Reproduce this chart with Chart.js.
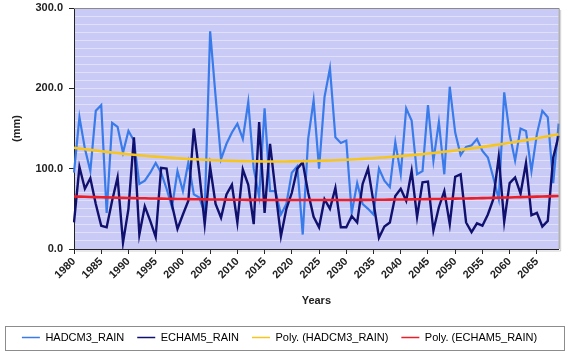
<!DOCTYPE html>
<html>
<head>
<meta charset="utf-8">
<script src="https://cdn.jsdelivr.net/npm/chart.js@4.4.1/dist/chart.umd.min.js"></script>
<style>
html,body{margin:0;padding:0;background:#fff;}
#wrap{width:569px;height:351px;position:relative;}
</style>
</head>
<body>
<div id="wrap"><canvas id="c" width="569" height="351"></canvas></div>
<script>
const years = [
1980,1981,1982,1983,1984,1985,1986,1987,1988,1989,
1990,1991,1992,1993,1994,1995,1996,1997,1998,1999,
2000,2001,2002,2003,2004,2005,2006,2007,2008,2009,
2010,2011,2012,2013,2014,2015,2016,2017,2018,2019,
2020,2021,2022,2023,2024,2025,2026,2027,2028,2029,
2030,2031,2032,2033,2034,2035,2036,2037,2038,2039,
2040,2041,2042,2043,2044,2045,2046,2047,2048,2049,
2050,2051,2052,2053,2054,2055,2056,2057,2058,2059,
2060,2061,2062,2063,2064,2065,2066,2067,2068,2069];

const hadcm3Rain = [
95,164,125,97,172,179,45,157,152,120,
147,135,81,85,95,107,95,75,52,97,
72,108,68,64,45,271,190,112,131,145,
156,137,183,100,65,175,72,72,43,56,
95,103,18,137,185,100,189,225,139,132,
135,45,82,56,50,43,100,85,77,133,
93,175,160,93,97,179,110,158,93,202,
145,117,127,129,137,122,114,89,62,195,
143,110,150,147,97,143,172,164,82,156];

const echam5Rain = [
33,102,75,88,56,29,27,60,89,8,
50,139,18,53,35,15,101,100,55,25,
43,60,150,95,31,102,56,39,68,80,
33,99,80,31,158,45,131,72,16,50,
70,100,108,70,40,27,62,50,76,27,
27,41,33,81,100,58,14,28,33,66,
75,60,97,40,83,84,23,52,72,31,
90,93,33,21,32,29,43,62,115,34,
82,89,69,107,42,45,28,35,114,141];

const seriesNames = ['HADCM3_RAIN','ECHAM5_RAIN','Poly. (HADCM3_RAIN)','Poly. (ECHAM5_RAIN)'];
const yTickLabels = ['0.0','100.0','200.0','300.0'];

// least-squares polynomial trend (as the spreadsheet's "Poly." trendline)
function polyTrend(vals, deg){
  const n = deg + 1;
  const A = Array.from({length:n},()=>new Array(n+1).fill(0));
  vals.forEach((v,i)=>{
    const x = i + 1;
    for(let r=0;r<n;r++){
      for(let c=0;c<n;c++) A[r][c] += Math.pow(x, r+c);
      A[r][n] += v*Math.pow(x, r);
    }
  });
  for(let i=0;i<n;i++){
    let p=i; for(let k=i+1;k<n;k++) if(Math.abs(A[k][i])>Math.abs(A[p][i])) p=k;
    [A[i],A[p]]=[A[p],A[i]];
    for(let k=0;k<n;k++){ if(k===i) continue; const f=A[k][i]/A[i][i]; for(let c=i;c<=n;c++) A[k][c]-=f*A[i][c]; }
  }
  const coef = A.map((row,i)=>row[n]/row[i]);
  return vals.map((_,i)=>{ const x=i+1; return coef.reduce((s,c,k)=>s+c*Math.pow(x,k),0); });
}

const bgPlugin = {
  id:'bg',
  beforeDraw(chart){
    const {ctx, chartArea:a} = chart;
    ctx.save();
    ctx.fillStyle = '#CACAF6';
    ctx.fillRect(a.left, a.top, a.right-a.left, a.bottom-a.top);
    ctx.restore();
  },
  afterDraw(chart){
    const {ctx, chartArea:a} = chart;
    ctx.save();
    ctx.strokeStyle = '#8a8a8a';
    ctx.lineWidth = 1;
    ctx.beginPath();
    ctx.moveTo(a.left, a.top+0.5); ctx.lineTo(a.right+0.5, a.top+0.5); ctx.lineTo(a.right+0.5, a.bottom);
    ctx.stroke();
    ctx.strokeStyle = 'rgba(120,120,120,0.35)';
    ctx.beginPath();
    ctx.moveTo(a.right+2, a.top+2); ctx.lineTo(a.right+2, a.bottom+2); ctx.lineTo(a.left+2, a.bottom+2);
    ctx.stroke();
    const L = chart.legend;
    if(L){
      const cy = L.top + 13 + 5.5;
      ctx.strokeStyle = '#8c8c8c';
      ctx.lineWidth = 1;
      ctx.strokeRect(5.5, Math.round(cy-12)+0.5, 559, 24);
    }
    ctx.restore();
  }
};

const tickFont = {family:'"Liberation Sans", Arial, sans-serif', size:11, weight:'bold'};

new Chart(document.getElementById('c'), {
  type:'line',
  data:{
    labels: years.map(String),
    datasets:[
      {label:seriesNames[0], data:hadcm3Rain, borderColor:'#3A7BEA', borderWidth:2.2, pointRadius:0, tension:0, order:4, pointStyle:'line'},
      {label:seriesNames[1], data:echam5Rain, borderColor:'#10106E', borderWidth:2.4, pointRadius:0, tension:0, order:3, pointStyle:'line'},
      {label:seriesNames[2], data:polyTrend(hadcm3Rain,2), borderColor:'#F6C520', borderWidth:2.6, pointRadius:0, tension:0, order:2, pointStyle:'line'},
      {label:seriesNames[3], data:polyTrend(echam5Rain,2), borderColor:'#EA1F28', borderWidth:2.6, pointRadius:0, tension:0, order:1, pointStyle:'line'}
    ]
  },
  options:{
    responsive:false,
    animation:false,
    devicePixelRatio:1,
    layout:{padding:{left:0,right:10,top:8,bottom:-2}},
    plugins:{
      tooltip:{enabled:false},
      legend:{
        position:'bottom',
        align:'center',
        labels:{
          usePointStyle:true,
          pointStyleWidth:18,
          padding:13,
          color:'#000',
          font:{family:'"Liberation Sans", Arial, sans-serif', size:11},
          sort:(a,b)=>a.datasetIndex-b.datasetIndex,
          generateLabels:(chart)=>Chart.defaults.plugins.legend.labels.generateLabels(chart).map(l=>Object.assign(l,{lineWidth:1.5, pointStyle:'line'}))
        }
      }
    },
    scales:{
      x:{
        type:'category',
        offset:false,
        afterFit:(s)=>{ s.height = 70; },
        grid:{drawOnChartArea:false, drawTicks:true, tickLength:5,
          tickColor:(ctx)=> (ctx.index % 5 === 0 ? '#222' : 'rgba(0,0,0,0)')},
        border:{display:true, color:'#222', width:1},
        ticks:{autoSkip:false, maxRotation:45, minRotation:45, padding:1, color:'#222', font:tickFont,
          callback:(v,i)=> (years[i] % 5 === 0 ? String(years[i]) : '')},
        title:{display:true, text:'Years', color:'#222',
          font:{family:'"Liberation Sans", Arial, sans-serif', size:11, weight:'bold'},
          padding:{top:0,bottom:11}}
      },
      y:{
        min:0, max:300,
        afterFit:(s)=>{ s.width = 74; s.paddingTop = 0; s.paddingBottom = 0; },
        grid:{color:'rgba(255,255,255,0.42)', lineWidth:1, drawTicks:true, tickLength:5,
          tickColor:(ctx)=> (ctx.tick && ctx.tick.value % 100 === 0 ? '#222' : 'rgba(0,0,0,0)')},
        border:{display:true, color:'#222', width:1},
        ticks:{stepSize:10, autoSkip:false, padding:6, color:'#222', font:tickFont,
          callback:(v)=> (v % 100 === 0 ? yTickLabels[v/100] : '')},
        title:{display:true, text:'(mm)', color:'#222',
          font:{family:'"Liberation Sans", Arial, sans-serif', size:11, weight:'bold'},
          padding:{top:10,bottom:0}}
      }
    }
  },
  plugins:[bgPlugin]
});
</script>
</body>
</html>
